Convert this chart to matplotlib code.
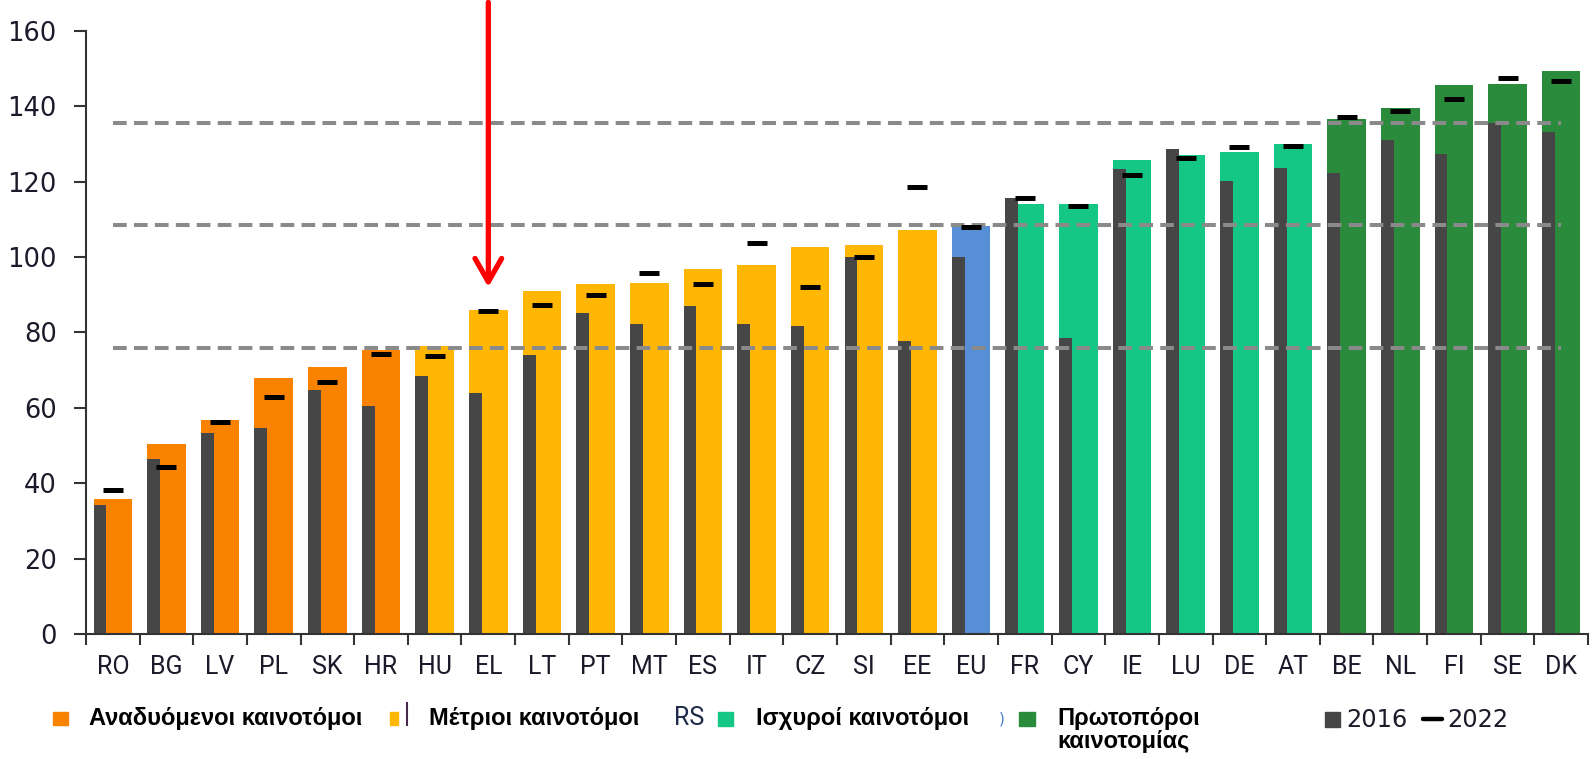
import numpy as np
import matplotlib
matplotlib.use("Agg")
import matplotlib.pyplot as plt
from matplotlib.patches import Rectangle
from matplotlib.lines import Line2D

# data
countries = ['RO', 'BG', 'LV', 'PL', 'SK', 'HR', 'HU', 'EL', 'LT', 'PT', 'MT', 'ES', 'IT', 'CZ',
             'SI', 'EE', 'EU', 'FR', 'CY', 'IE', 'LU', 'DE', 'AT', 'BE', 'NL', 'FI', 'SE', 'DK']
score_now = [35.7, 50.5, 56.8, 67.9, 70.9, 75.4, 76.3, 86.0, 91.0, 92.7, 93.0, 96.8, 97.9, 102.6,
             103.2, 107.1, 108.1, 114.1, 114.1, 125.6, 127.1, 127.7, 130.0, 136.6, 139.6, 145.7, 145.9, 149.2]
score_2016 = [34.3, 46.3, 53.4, 54.6, 64.6, 60.5, 68.4, 63.9, 74.0, 85.1, 82.2, 87.0, 82.3, 81.6,
              99.9, 77.6, 99.9, 115.6, 78.5, 123.2, 128.7, 120.1, 123.6, 122.3, 130.9, 127.2, 135.4, 133.2]
score_2022 = [38.2, 44.4, 56.3, 62.9, 66.8, 74.3, 73.7, 85.6, 87.3, 89.9, 95.7, 92.8, 103.7, 92.1,
              99.9, 118.5, 108.0, 115.6, 113.6, 121.7, 126.2, 129.2, 129.5, 137.1, 138.6, 141.8, 147.4, 146.6]
groups = ['em'] * 6 + ['mod'] * 10 + ['eu'] + ['str'] * 6 + ['lead'] * 5
thresholds = [75.9, 108.4, 135.5]
highlight = 'EL'
arrow_tip = 92.0

group_colors = {'em': '#F98300', 'mod': '#FFB703', 'eu': '#568FD5', 'str': '#15C784', 'lead': '#2A8B3C'}
legend_labels = ['Αναδυόμενοι καινοτόμοι', 'Μέτριοι καινοτόμοι', 'Ισχυροί καινοτόμοι', 'Πρωτοπόροι']
dark = '#464646'

W, H = 1593, 759


def fx(px):
    return px / W


def fy(py):
    return 1 - py / H


fig = plt.figure(figsize=(W / 100, H / 100), dpi=100)
ax = fig.add_axes([fx(86), fy(634), fx(1588) - fx(86), fy(30.7) - fy(634)])

x = np.arange(len(countries))
bw = 0.72
colors = [group_colors[g] for g in groups]
ax.bar(x, score_now, width=bw, color=colors, zorder=2)
ax.bar(x - bw / 2, score_2016, width=0.24, align='edge', color=dark, zorder=2.5)

for t in thresholds:
    ax.plot([x[0], x[-1]], [t, t], color='#8a8a8a', lw=2.9, ls=(0, (3.4, 1.8)), zorder=3)

ax.plot(x, score_2022, ls='none', marker='_', ms=14.5, mew=3.6, color='black', zorder=4)

# red arrow pointing at Greece
hx = countries.index(highlight)
ax.annotate('', xy=(hx, arrow_tip), xytext=(hx, 167.5), xycoords='data',
            arrowprops=dict(arrowstyle='->,head_length=0.42,head_width=0.24', lw=3.8,
                            color='#FF0000', mutation_scale=40, shrinkA=0, shrinkB=0),
            annotation_clip=False, zorder=6)

ax.set_xlim(-0.5, len(countries) - 0.5)
ax.set_ylim(0, 160)
ax.set_yticks(range(0, 161, 20))
ax.set_xticks(x)
ax.set_xticklabels(countries, fontfamily='Roboto', fontsize=18, color='#1a1a2a')
ax.set_xticks(np.arange(-0.5, len(countries), 1.0), minor=True)
ax.tick_params(axis='x', which='major', length=0, pad=15)
ax.tick_params(axis='x', which='minor', length=8, width=1.5, color='#333333', direction='out')
ax.tick_params(axis='y', length=9, width=1.5, color='#333333', pad=12,
               labelsize=18.5, labelcolor='#1a1a2a')
for s in ['top', 'right']:
    ax.spines[s].set_visible(False)
for s in ['left', 'bottom']:
    ax.spines[s].set_linewidth(1.5)
    ax.spines[s].set_color('#333333')

# legend built by hand
bold = dict(fontfamily='Liberation Sans', fontweight='bold', fontsize=17, color='black', va='baseline')


def square(x0, y0, w, h, c):
    fig.patches.append(Rectangle((fx(x0), fy(y0 + h)), w / W, h / H, color=c,
                                 transform=fig.transFigure, figure=fig))


square(53, 712, 15, 13, group_colors['em'])
fig.text(fx(89), fy(725), legend_labels[0], **bold)
square(390, 712, 8, 13, group_colors['mod'])
fig.lines.append(Line2D([fx(406.5), fx(406.5)], [fy(703), fy(725)], lw=1.5, color='#4a2a4a',
                        transform=fig.transFigure))
fig.text(fx(429), fy(725), legend_labels[1], **bold)
fig.text(fx(674), fy(725), 'RS', fontfamily='Roboto', fontsize=18, color='#1f2a4a', va='baseline')
square(718, 712, 15, 14, group_colors['str'])
fig.text(fx(756), fy(725), legend_labels[2], **bold)
fig.text(fx(999), fy(723), ')', fontfamily='DejaVu Sans', fontsize=11, color='#4a7fd0', va='baseline')
square(1019, 712, 16, 14, group_colors['lead'])
fig.text(fx(1057), fy(725), legend_labels[3], **bold)
fig.text(fx(1057), fy(748), 'καινοτομίας', **bold)

square(1325, 712, 15, 15, dark)
fig.text(fx(1346), fy(727), '2016', fontfamily='DejaVu Sans', fontsize=17.3, color='#1a1a2a', va='baseline')
fig.lines.append(Line2D([fx(1423), fx(1442)], [fy(719), fy(719)], lw=3.2, color='black',
                        solid_capstyle='round', transform=fig.transFigure))
fig.text(fx(1447), fy(727), '2022', fontfamily='DejaVu Sans', fontsize=17.3, color='#1a1a2a', va='baseline')

fig.savefig('out.png', dpi=100)
